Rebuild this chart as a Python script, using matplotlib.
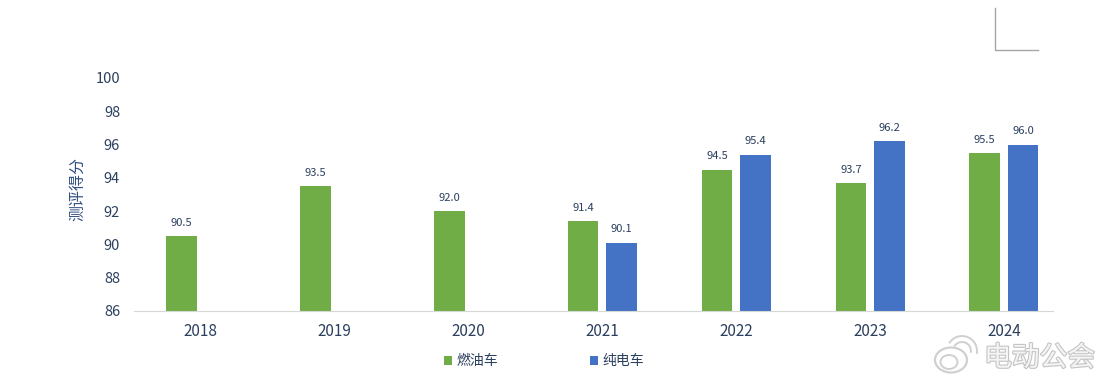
import matplotlib
matplotlib.use('Agg')
import matplotlib.pyplot as plt
import matplotlib.patheffects as pe
from matplotlib.lines import Line2D
from matplotlib.patches import Ellipse, Arc
import numpy as np

plt.rcParams['font.family'] = ['Noto Sans CJK SC', 'DejaVu Sans']

years = ['2018', '2019', '2020', '2021', '2022', '2023', '2024']
fuel = [90.5, 93.5, 92.0, 91.4, 94.5, 93.7, 95.5]
electric = [None, None, None, 90.1, 95.4, 96.2, 96.0]
yticks = [86, 88, 90, 92, 94, 96, 98, 100]

GREEN = '#70AD47'
BLUE = '#4472C4'
TEXT = '#2B3F5F'
W, H = 1107, 383

fig = plt.figure(figsize=(W / 100, H / 100), dpi=100)
# axes box in pixels: x 134-1053, y 78-311
ax = fig.add_axes([134 / W, 1 - 311 / H, (1053 - 134) / W, (311 - 78) / H])

x = np.arange(len(years))
bar_w = 30.5 / 133.8
offset = 19.2 / 133.8
ax.bar(x - offset, fuel, bar_w, color=GREEN, label='燃油车')
ex = [i for i in x if electric[i] is not None]
ey = [electric[i] for i in ex]
ax.bar(np.array(ex) + offset, ey, bar_w, color=BLUE, label='纯电车')

for i, v in zip(x, fuel):
    ax.annotate('%.1f' % v, (i - offset, v), xytext=(0, 6), textcoords='offset points',
                ha='center', va='bottom', fontsize=8, color=TEXT)
for i, v in zip(ex, ey):
    ax.annotate('%.1f' % v, (i + offset, v), xytext=(0, 6), textcoords='offset points',
                ha='center', va='bottom', fontsize=8, color=TEXT)

ax.set_xlim(-0.5, 6.367)
ax.set_ylim(86, 100)
ax.set_xticks(x)
ax.set_xticklabels(years)
ax.set_yticks(yticks)
for s in ['top', 'right', 'left']:
    ax.spines[s].set_visible(False)
ax.spines['bottom'].set_color('#D5D9D5')
ax.tick_params(axis='x', length=0, pad=9, labelsize=11, labelcolor=TEXT)
ax.tick_params(axis='y', length=0, pad=10, labelsize=10.5, labelcolor=TEXT)

fig.text(78 / W, 1 - 189 / H, '测评得分', rotation=90, ha='center', va='center',
         fontsize=11.5, color='#2F4F80')

fig.legend(loc='center', bbox_to_anchor=(544 / W, 1 - 361 / H), ncol=2, frameon=False,
           fontsize=10, labelcolor=TEXT, handlelength=0.6, handleheight=0.6,
           handletextpad=0.3, columnspacing=6.6, borderpad=0)

# corner mark top right
fig.add_artist(Line2D([995 / W, 995 / W, 1038 / W], [1 - 8 / H, 1 - 50 / H, 1 - 50 / H],
                      color='#A6A6A6', lw=1))

# watermark
fig.text(984 / W, 1 - 358 / H, '电动公会', ha='left', va='center', fontsize=20, color='#F4F4F4',
         path_effects=[pe.withStroke(linewidth=1.6, foreground='#C4C4C4')])
fig.add_artist(Ellipse((951 / W, 1 - 360 / H), 32 / W, 25 / H, fc='none', ec='#D0D0D0', lw=1.6,
                       transform=fig.transFigure))
fig.add_artist(Ellipse((949 / W, 1 - 362 / H), 17 / W, 14 / H, fc='none', ec='#D0D0D0', lw=1.4,
                       transform=fig.transFigure))
fig.add_artist(Arc((962 / W, 1 - 351 / H), 18 / W, 18 / H, theta1=-30, theta2=120, ec='#D0D0D0', lw=1.4,
                   transform=fig.transFigure))
fig.add_artist(Arc((962 / W, 1 - 351 / H), 30 / W, 30 / H, theta1=-30, theta2=120, ec='#D0D0D0', lw=1.4,
                   transform=fig.transFigure))

fig.savefig('out.png', dpi=100)
